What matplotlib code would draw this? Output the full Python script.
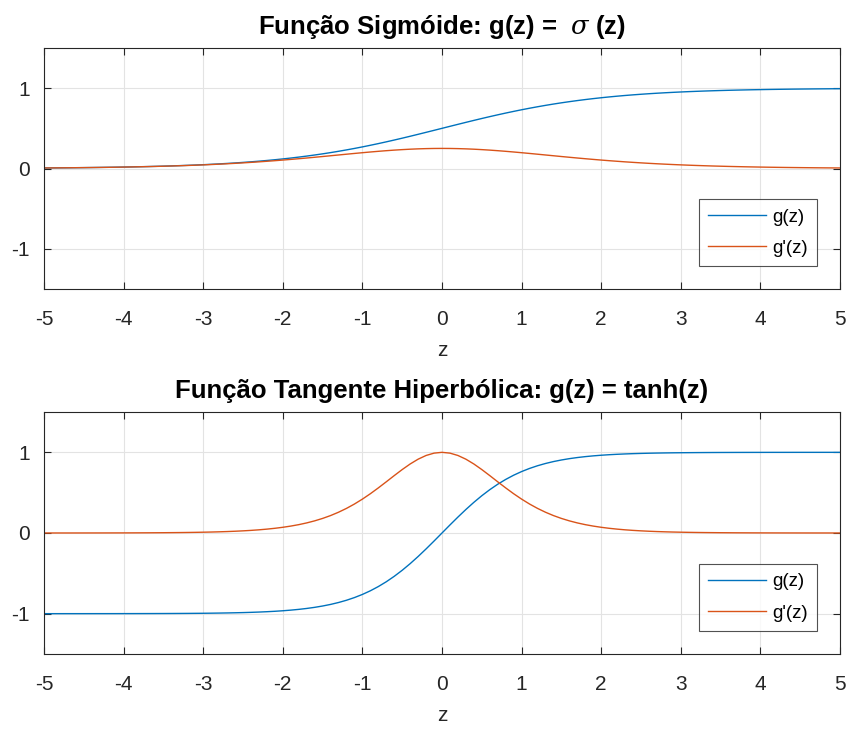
import matplotlib
matplotlib.use("Agg")
import matplotlib.pyplot as plt

plt.rcParams['font.family'] = ['Liberation Sans', 'DejaVu Sans']
plt.rcParams['mathtext.fontset'] = 'dejavuserif'

z = [-5.0, -4.9, -4.8, -4.7, -4.6, -4.5, -4.4, -4.3, -4.2, -4.1,
     -4.0, -3.9, -3.8, -3.7, -3.6, -3.5, -3.4, -3.3, -3.2, -3.1,
     -3.0, -2.9, -2.8, -2.7, -2.6, -2.5, -2.4, -2.3, -2.2, -2.1,
     -2.0, -1.9, -1.8, -1.7, -1.6, -1.5, -1.4, -1.3, -1.2, -1.1,
     -1.0, -0.9, -0.8, -0.7, -0.6, -0.5, -0.4, -0.3, -0.2, -0.1,
     0.0, 0.1, 0.2, 0.3, 0.4, 0.5, 0.6, 0.7, 0.8, 0.9,
     1.0, 1.1, 1.2, 1.3, 1.4, 1.5, 1.6, 1.7, 1.8, 1.9,
     2.0, 2.1, 2.2, 2.3, 2.4, 2.5, 2.6, 2.7, 2.8, 2.9,
     3.0, 3.1, 3.2, 3.3, 3.4, 3.5, 3.6, 3.7, 3.8, 3.9,
     4.0, 4.1, 4.2, 4.3, 4.4, 4.5, 4.6, 4.7, 4.8, 4.9, 5.0]

sig = [0.0067, 0.0074, 0.0082, 0.0090, 0.0100, 0.0110, 0.0121, 0.0134, 0.0148, 0.0163,
       0.0180, 0.0198, 0.0219, 0.0241, 0.0266, 0.0293, 0.0323, 0.0356, 0.0392, 0.0431,
       0.0474, 0.0522, 0.0573, 0.0630, 0.0691, 0.0759, 0.0832, 0.0911, 0.0998, 0.1091,
       0.1192, 0.1301, 0.1419, 0.1545, 0.1680, 0.1824, 0.1978, 0.2142, 0.2315, 0.2497,
       0.2689, 0.2891, 0.3100, 0.3318, 0.3543, 0.3775, 0.4013, 0.4256, 0.4502, 0.4750,
       0.5000, 0.5250, 0.5498, 0.5744, 0.5987, 0.6225, 0.6457, 0.6682, 0.6900, 0.7109,
       0.7311, 0.7503, 0.7685, 0.7858, 0.8022, 0.8176, 0.8320, 0.8455, 0.8581, 0.8699,
       0.8808, 0.8909, 0.9002, 0.9089, 0.9168, 0.9241, 0.9309, 0.9370, 0.9427, 0.9478,
       0.9526, 0.9569, 0.9608, 0.9644, 0.9677, 0.9707, 0.9734, 0.9759, 0.9781, 0.9802,
       0.9820, 0.9837, 0.9852, 0.9866, 0.9879, 0.9890, 0.9900, 0.9910, 0.9918, 0.9926, 0.9933]

dsig = [0.0066, 0.0073, 0.0081, 0.0089, 0.0099, 0.0109, 0.0120, 0.0132, 0.0146, 0.0161,
        0.0177, 0.0195, 0.0214, 0.0236, 0.0259, 0.0285, 0.0312, 0.0343, 0.0376, 0.0412,
        0.0452, 0.0494, 0.0540, 0.0590, 0.0643, 0.0701, 0.0763, 0.0828, 0.0899, 0.0972,
        0.1050, 0.1132, 0.1217, 0.1306, 0.1398, 0.1491, 0.1587, 0.1683, 0.1779, 0.1874,
        0.1966, 0.2055, 0.2139, 0.2217, 0.2288, 0.2350, 0.2403, 0.2445, 0.2475, 0.2494,
        0.2500, 0.2494, 0.2475, 0.2445, 0.2403, 0.2350, 0.2288, 0.2217, 0.2139, 0.2055,
        0.1966, 0.1874, 0.1779, 0.1683, 0.1587, 0.1491, 0.1398, 0.1306, 0.1217, 0.1132,
        0.1050, 0.0972, 0.0899, 0.0828, 0.0763, 0.0701, 0.0643, 0.0590, 0.0540, 0.0494,
        0.0452, 0.0412, 0.0376, 0.0343, 0.0312, 0.0285, 0.0259, 0.0236, 0.0214, 0.0195,
        0.0177, 0.0161, 0.0146, 0.0132, 0.0120, 0.0109, 0.0099, 0.0089, 0.0081, 0.0073, 0.0066]

th = [-0.9999, -0.9999, -0.9999, -0.9998, -0.9998, -0.9998, -0.9997, -0.9996, -0.9996, -0.9995,
      -0.9993, -0.9992, -0.9990, -0.9988, -0.9985, -0.9982, -0.9978, -0.9973, -0.9967, -0.9959,
      -0.9951, -0.9940, -0.9926, -0.9910, -0.9890, -0.9866, -0.9837, -0.9801, -0.9757, -0.9705,
      -0.9640, -0.9562, -0.9468, -0.9354, -0.9217, -0.9051, -0.8854, -0.8617, -0.8337, -0.8005,
      -0.7616, -0.7163, -0.6640, -0.6044, -0.5370, -0.4621, -0.3799, -0.2913, -0.1974, -0.0997,
      0.0000, 0.0997, 0.1974, 0.2913, 0.3799, 0.4621, 0.5370, 0.6044, 0.6640, 0.7163,
      0.7616, 0.8005, 0.8337, 0.8617, 0.8854, 0.9051, 0.9217, 0.9354, 0.9468, 0.9562,
      0.9640, 0.9705, 0.9757, 0.9801, 0.9837, 0.9866, 0.9890, 0.9910, 0.9926, 0.9940,
      0.9951, 0.9959, 0.9967, 0.9973, 0.9978, 0.9982, 0.9985, 0.9988, 0.9990, 0.9992,
      0.9993, 0.9995, 0.9996, 0.9996, 0.9997, 0.9998, 0.9998, 0.9998, 0.9999, 0.9999, 0.9999]

dth = [0.0002, 0.0002, 0.0003, 0.0003, 0.0004, 0.0005, 0.0006, 0.0007, 0.0009, 0.0011,
       0.0013, 0.0016, 0.0020, 0.0024, 0.0030, 0.0036, 0.0045, 0.0054, 0.0066, 0.0081,
       0.0099, 0.0120, 0.0147, 0.0179, 0.0218, 0.0266, 0.0324, 0.0394, 0.0480, 0.0583,
       0.0707, 0.0857, 0.1035, 0.1250, 0.1505, 0.1807, 0.2161, 0.2575, 0.3050, 0.3592,
       0.4200, 0.4869, 0.5591, 0.6347, 0.7116, 0.7864, 0.8556, 0.9151, 0.9610, 0.9901,
       1.0000, 0.9901, 0.9610, 0.9151, 0.8556, 0.7864, 0.7116, 0.6347, 0.5591, 0.4869,
       0.4200, 0.3592, 0.3050, 0.2575, 0.2161, 0.1807, 0.1505, 0.1250, 0.1035, 0.0857,
       0.0707, 0.0583, 0.0480, 0.0394, 0.0324, 0.0266, 0.0218, 0.0179, 0.0147, 0.0120,
       0.0099, 0.0081, 0.0066, 0.0054, 0.0045, 0.0036, 0.0030, 0.0024, 0.0020, 0.0016,
       0.0013, 0.0011, 0.0009, 0.0007, 0.0006, 0.0005, 0.0004, 0.0003, 0.0003, 0.0002, 0.0002]

xticks = [-5, -4, -3, -2, -1, 0, 1, 2, 3, 4, 5]
yticks = [-1, 0, 1]
titles = [r'Função Sigmóide: g(z) =  $\sigma$ (z)',
          'Função Tangente Hiperbólica: g(z) = tanh(z)']
legend_labels = ['g(z)', "g'(z)"]

BLUE = '#0072BD'
ORANGE = '#D95319'

W, H = 846, 729
fig = plt.figure(figsize=(W / 100, H / 100), dpi=100)

def add_ax(l, t, r, b):
    return fig.add_axes([l / W, 1 - b / H, (r - l) / W, (b - t) / H])

ax1 = add_ax(44, 48, 840, 289)
ax2 = add_ax(44, 412, 840, 654)

for ax, y, dy, title in [(ax1, sig, dsig, titles[0]), (ax2, th, dth, titles[1])]:
    ax.plot(z, y, color=BLUE, lw=1.0, label=legend_labels[0])
    ax.plot(z, dy, color=ORANGE, lw=1.0, label=legend_labels[1])
    ax.set_xlim(-5, 5)
    ax.set_ylim(-1.5, 1.5)
    ax.set_xticks(xticks)
    ax.set_yticks(yticks)
    ax.set_xticklabels([str(v) for v in xticks])
    ax.set_yticklabels([str(v) for v in yticks])
    ax.grid(True, color='#e3e3e3', lw=0.8)
    ax.set_axisbelow(True)
    ax.tick_params(direction='in', length=5, width=0.8, colors='#262626',
                   labelsize=15, top=True, right=True)
    ax.tick_params(axis='x', pad=15)
    ax.tick_params(axis='y', pad=10)
    for s in ax.spines.values():
        s.set_color('#262626')
        s.set_linewidth(0.8)
    ax.set_xlabel('z', fontsize=15, color='#262626', labelpad=9)
    ax.set_title(title, fontsize=18.5, fontweight='bold', pad=10)
    leg = ax.legend(loc='lower right', bbox_to_anchor=(0.971, 0.095), fontsize=13.5,
                    frameon=True, fancybox=False, edgecolor='#262626',
                    handlelength=3.1, handletextpad=0.3, borderpad=0.5,
                    labelspacing=0.75, borderaxespad=0.0)
    leg.get_frame().set_linewidth(0.8)

fig.savefig('out.png', dpi=100)
